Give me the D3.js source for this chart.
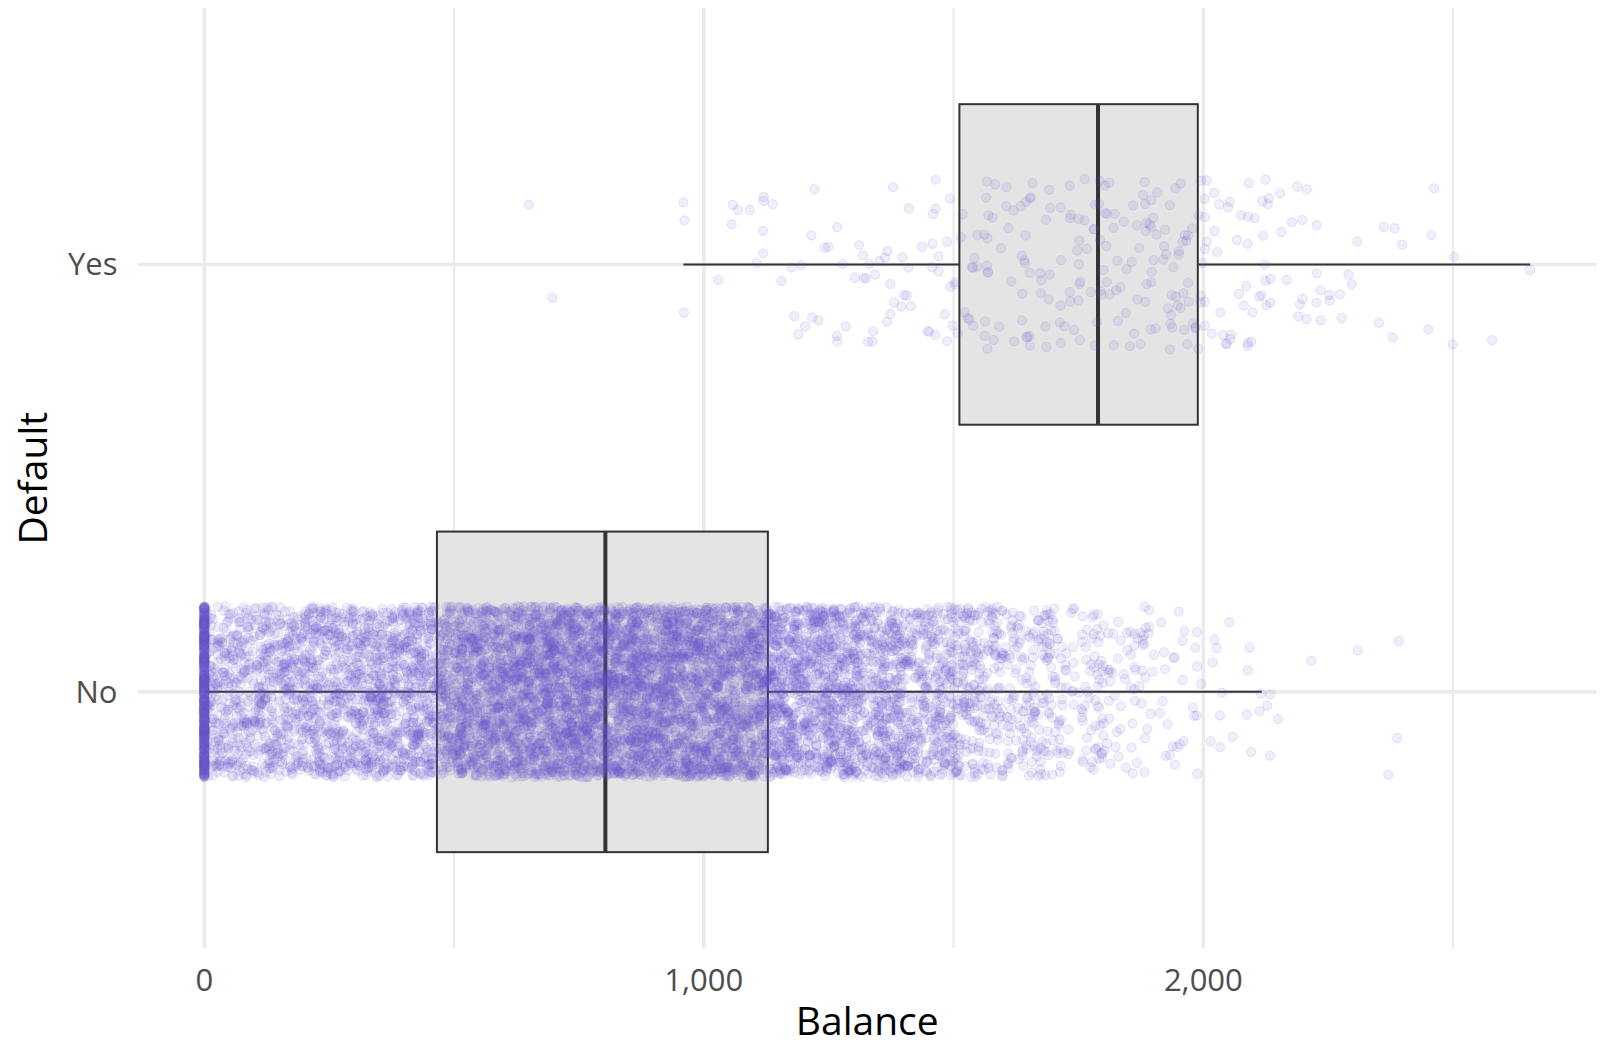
<!DOCTYPE html>
<html>
<head>
<meta charset="utf-8">
<script src="https://cdn.jsdelivr.net/npm/d3@7"></script>
<style>
  body { margin: 0; background: #fff; }
  svg { display: block; }
  text { font-family: "Open Sans", "Noto Sans", sans-serif; }
</style>
</head>
<body>
<svg id="chart" width="1604" height="1045"></svg>
<script>
// ---- data ---------------------------------------------------------------
const groups = ["Yes", "No"];

const xTicks = [0, 1000, 2000];
const xTickLabels = ["0", "1,000", "2,000"];
const xMinorTicks = [500, 1500, 2500];

// five-number summaries (lower whisker, Q1, median, Q3, upper whisker)
const boxLow    = [959.2, 0];
const boxQ1     = [1511.6, 465.7];
const boxMedian = [1789.1, 802.9];
const boxQ3     = [1988.9, 1128.2];
const boxHigh   = [2654.3, 2117.0];

const balanceMax = 2654.3;
const binWidth = 100;

// customers who defaulted: counts of balances per 100-wide bin
const yesBinStarts = [1000, 1100, 1200, 1300, 1400, 1500, 1600, 1700, 1800, 1900, 2000, 2100, 2200, 2300, 2400];
const yesBinCounts = [5, 11, 12, 20, 22, 30, 32, 34, 40, 42, 32, 22, 13, 6, 2];
// sparse defaulters at the edges (balance, vertical jitter)
const yesTailBalance = [650, 697, 959, 961, 960, 2462, 2499, 2502, 2578, 2654];
const yesTailJitter  = [0.14, -0.078, 0.145, 0.103, -0.113, 0.178, -0.187, 0.018, -0.177, -0.013];

// customers who did not default
const noZeroCount = 499;
const noBinStarts = [0, 100, 200, 300, 400, 500, 600, 700, 800, 900, 1000, 1100, 1200, 1300, 1400, 1500, 1600, 1700, 1800, 1900];
const noBinCounts = [340, 380, 420, 460, 500, 670, 760, 800, 800, 760, 690, 630, 550, 450, 345, 245, 160, 100, 60, 28];
const noTailBalance = [2022.6, 2026.6, 2051.9, 2092.7, 2088.7, 2037.2, 2018.6, 2115.3, 2133.9, 2127.9, 2112.7, 2149.3,
                       2087.3, 2033.2, 2058.6, 2014.6, 2033.8, 2095.9, 2133.3, 2216, 2309, 2391, 2388, 2370];
const noTailJitter  = [0.122, 0.103, 0.163, 0.104, 0.051, -0.002, 0.069, -0.004, -0.006, -0.032, -0.045, -0.064,
                       -0.053, -0.055, -0.105, -0.116, -0.129, -0.141, -0.149, 0.073, 0.097, 0.119, -0.108, -0.194];

// ---- layout -------------------------------------------------------------
const panel = { left: 138, right: 1596.5, top: 8, bottom: 948.3 };
const jitterHeight = 0.2;
const pointColor = "#6a5acd";

const svg = d3.select("#chart");

const pad = balanceMax * 0.05;
const x = d3.scaleLinear()
  .domain([-pad, balanceMax + pad])
  .range([panel.left, panel.right]);

const y = d3.scalePoint()
  .domain(groups)
  .range([panel.top, panel.bottom])
  .padding(0.6);
const step = y.step();

// ---- jittered points ----------------------------------------------------
// deterministic integer hash -> [0,1), used to scatter points inside a bin
function hash01(k, salt) {
  let h = (k * 0x9E3779B1 + salt * 0x85EBCA77) | 0;
  h ^= h >>> 16; h = Math.imul(h, 0x45d9f3b);
  h ^= h >>> 16; h = Math.imul(h, 0x45d9f3b);
  h ^= h >>> 16;
  return (h >>> 0) / 4294967296;
}
const points = [];
let k = 0;
function spreadBins(group, starts, counts) {
  starts.forEach((s, i) => {
    for (let n = 0; n < counts[i]; n++, k++) {
      points.push({
        group,
        balance: s + hash01(k, 11) * binWidth,
        jitter: (hash01(k, 29) * 2 - 1) * jitterHeight
      });
    }
  });
}
for (let n = 0; n < noZeroCount; n++, k++) {
  points.push({ group: "No", balance: 0, jitter: (hash01(k, 29) * 2 - 1) * jitterHeight });
}
spreadBins("No", noBinStarts, noBinCounts);
noTailBalance.forEach((b, i) => points.push({ group: "No", balance: b, jitter: noTailJitter[i] }));
spreadBins("Yes", yesBinStarts, yesBinCounts);
yesTailBalance.forEach((b, i) => points.push({ group: "Yes", balance: b, jitter: yesTailJitter[i] }));

// ---- grid ---------------------------------------------------------------
const grid = svg.append("g").attr("stroke", "#ebebeb");
grid.selectAll("line.minor").data(xMinorTicks).join("line")
  .attr("class", "minor")
  .attr("x1", d => x(d)).attr("x2", d => x(d))
  .attr("y1", panel.top).attr("y2", panel.bottom)
  .attr("stroke-width", 2.2);
grid.selectAll("line.majorx").data(xTicks).join("line")
  .attr("class", "majorx")
  .attr("x1", d => x(d)).attr("x2", d => x(d))
  .attr("y1", panel.top).attr("y2", panel.bottom)
  .attr("stroke-width", 3.6);
grid.selectAll("line.majory").data(groups).join("line")
  .attr("class", "majory")
  .attr("x1", panel.left).attr("x2", panel.right)
  .attr("y1", d => y(d)).attr("y2", d => y(d))
  .attr("stroke-width", 3.6);

// ---- boxplots -----------------------------------------------------------
const boxes = groups.map((g, i) => ({
  group: g, low: boxLow[i], q1: boxQ1[i], med: boxMedian[i], q3: boxQ3[i], high: boxHigh[i]
}));
const boxHalf = step * 0.75 / 2;
const bx = svg.append("g").selectAll("g").data(boxes).join("g");
bx.append("line")
  .attr("x1", d => x(d.low)).attr("x2", d => x(d.q1))
  .attr("y1", d => y(d.group)).attr("y2", d => y(d.group))
  .attr("stroke", "#333").attr("stroke-width", 2);
bx.append("line")
  .attr("x1", d => x(d.q3)).attr("x2", d => x(d.high))
  .attr("y1", d => y(d.group)).attr("y2", d => y(d.group))
  .attr("stroke", "#333").attr("stroke-width", 2);
bx.append("rect")
  .attr("x", d => x(d.q1)).attr("width", d => x(d.q3) - x(d.q1))
  .attr("y", d => y(d.group) - boxHalf).attr("height", boxHalf * 2)
  .attr("fill", "#e4e4e4").attr("stroke", "#333").attr("stroke-width", 2);
bx.append("line")
  .attr("x1", d => x(d.med)).attr("x2", d => x(d.med))
  .attr("y1", d => y(d.group) - boxHalf).attr("y2", d => y(d.group) + boxHalf)
  .attr("stroke", "#333").attr("stroke-width", 4);

// ---- points -------------------------------------------------------------
svg.append("g")
  .attr("fill", pointColor).attr("fill-opacity", 0.1)
  .attr("stroke", pointColor).attr("stroke-opacity", 0.14).attr("stroke-width", 1.1)
  .selectAll("circle").data(points).join("circle")
  .attr("cx", d => x(d.balance))
  .attr("cy", d => y(d.group) - d.jitter * step)
  .attr("r", 4.6);

// ---- axes text ----------------------------------------------------------
svg.append("g").selectAll("text").data(xTicks).join("text")
  .attr("x", d => x(d)).attr("y", 991)
  .attr("text-anchor", "middle")
  .attr("font-size", 31).attr("fill", "#4d4d4d")
  .text((d, i) => xTickLabels[i]);

svg.append("g").selectAll("text").data(groups).join("text")
  .attr("x", 117.5).attr("y", d => y(d) + 11)
  .attr("text-anchor", "end")
  .attr("font-size", 31).attr("fill", "#4d4d4d")
  .text(d => d);

svg.append("text")
  .attr("x", (panel.left + panel.right) / 2).attr("y", 1035)
  .attr("text-anchor", "middle")
  .attr("font-size", 39).attr("fill", "#000")
  .text("Balance");

svg.append("text")
  .attr("transform", `translate(47,${(panel.top + panel.bottom) / 2}) rotate(-90)`)
  .attr("text-anchor", "middle")
  .attr("font-size", 39).attr("fill", "#000")
  .text("Default");
</script>
</body>
</html>
